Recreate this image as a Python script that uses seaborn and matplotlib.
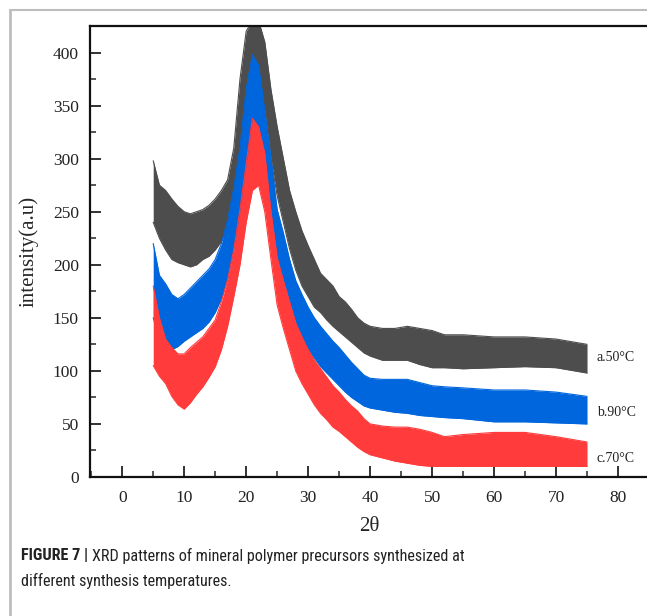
import numpy as np
import pandas as pd
import matplotlib
matplotlib.use("Agg")
import matplotlib.pyplot as plt
from matplotlib.lines import Line2D
from matplotlib.ticker import MultipleLocator
import seaborn as sns

# ---- data (lower / upper envelope of each noisy trace) ----
two_theta = [5, 6, 7, 8, 9, 10, 11, 12, 13, 14, 15, 16, 17, 18, 19, 20, 21, 22, 23, 24, 25,
             26, 27, 28, 29, 30, 31, 32, 33, 34, 35, 36, 37, 38, 39, 40, 42, 44, 46, 48, 50,
             52, 55, 60, 65, 70, 75]

a_low = [240, 225, 214, 205, 202, 200, 198, 200, 205, 208, 214, 222, 235, 255, 290, 335, 370, 370, 345, 300, 265,
         240, 215, 195, 180, 170, 160, 155, 148, 142, 137, 132, 127, 122, 117, 114, 110, 110, 110, 106, 103,
         103, 102, 103, 104, 103, 98]
a_high = [298, 275, 270, 262, 255, 250, 248, 250, 252, 256, 262, 270, 280, 310, 375, 420, 430, 430, 410, 365, 330,
          300, 270, 250, 232, 218, 205, 192, 186, 180, 170, 165, 158, 150, 145, 142, 140, 140, 142, 140, 138,
          134, 134, 132, 132, 130, 125]

b_low = [150, 130, 125, 120, 123, 128, 132, 136, 140, 146, 155, 168, 186, 214, 245, 290, 320, 320, 290, 245, 205,
         185, 165, 145, 130, 120, 112, 104, 98, 92, 86, 80, 75, 71, 67, 65, 63, 61, 60, 58, 57,
         56, 55, 52, 52, 51, 50]
b_high = [220, 190, 182, 172, 168, 172, 178, 184, 190, 196, 205, 220, 242, 272, 310, 365, 398, 388, 345, 300, 252,
          230, 205, 185, 172, 160, 150, 142, 135, 128, 122, 115, 108, 102, 96, 93, 92, 92, 92, 89, 86,
          85, 84, 82, 82, 80, 76]

c_low = [105, 95, 88, 76, 68, 64, 70, 78, 85, 94, 104, 120, 142, 170, 200, 240, 270, 275, 250, 205, 162,
         140, 120, 100, 88, 78, 68, 60, 54, 47, 43, 38, 33, 28, 24, 21, 18, 15, 13, 11, 10,
         10, 10, 10, 10, 10, 10]
c_high = [180, 150, 130, 122, 116, 116, 122, 127, 132, 140, 148, 165, 186, 214, 252, 295, 338, 330, 305, 250, 207,
          185, 165, 145, 132, 120, 110, 102, 94, 86, 80, 73, 67, 62, 55, 50, 48, 47, 47, 45, 42,
          38, 40, 42, 42, 38, 33]

series_names = ["a.50°C", "b.90°C", "c.70°C"]
series_colors = ["#4d4d4d", "#0066dd", "#ff3b3b"]
label_y = [113, 61, 17]

x_ticks = [0, 10, 20, 30, 40, 50, 60, 70, 80]
y_ticks = [0, 50, 100, 150, 200, 250, 300, 350, 400]

# ---- build long table ----
lows = [a_low, b_low, c_low]
highs = [a_high, b_high, c_high]
frames = []
for name, lo, hi in zip(series_names, lows, highs):
    frames.append(pd.DataFrame({"2θ": two_theta, "low": lo, "high": hi, "series": name}))
df = pd.concat(frames, ignore_index=True)

sns.set_theme(style="ticks")
plt.rcParams["font.family"] = ["Liberation Serif", "DejaVu Serif"]
plt.rcParams["xtick.direction"] = "in"
plt.rcParams["ytick.direction"] = "in"

W, H = 647, 616
fig = plt.figure(figsize=(W / 100, H / 100), dpi=100)
fig.patch.set_facecolor("white")
ax = fig.add_axes([90 / W, 139 / H, 559 / W, 451 / H])

palette = dict(zip(series_names, series_colors))
for i, name in enumerate(series_names):
    sub = df[df["series"] == name]
    z = 2 + 2 * i
    ax.fill_between(sub["2θ"], sub["low"], sub["high"], color=palette[name], lw=0, zorder=z)
    sns.lineplot(data=sub, x="2θ", y="low", color=palette[name], lw=0.8, ax=ax,
                 legend=False, zorder=z + 1)
    sns.lineplot(data=sub, x="2θ", y="high", color=palette[name], lw=0.8, ax=ax,
                 legend=False, zorder=z + 1)

for name, yv in zip(series_names, label_y):
    ax.text(76.6, yv, name, fontsize=10, va="center", ha="left", color="#222222")

ax.set_xlim(-5.2, 85)
ax.set_ylim(0, 425)
ax.set_xticks(x_ticks)
ax.set_yticks(y_ticks)
ax.xaxis.set_minor_locator(MultipleLocator(5))
ax.yaxis.set_minor_locator(MultipleLocator(25))
ax.tick_params(which="major", length=8, width=1.3, labelsize=12.5, colors="#222222", pad=9)
ax.tick_params(which="minor", length=4.5, width=1.1)
ax.tick_params(axis="y", which="major", pad=8)
for s in ax.spines.values():
    s.set_linewidth(1.6)
    s.set_color("#111111")
    s.set_zorder(10)
ax.set_xlabel("2θ", fontsize=15, labelpad=8)
ax.set_ylabel("intensity(a.u)", fontsize=15, labelpad=10)

# frame lines of the page
fig.add_artist(Line2D([10 / W, 10 / W], [0, 1 - 10 / H], color="#bdbdbd", lw=2))
fig.add_artist(Line2D([10 / W, 1], [1 - 10 / H, 1 - 10 / H], color="#bdbdbd", lw=1.5))

# caption (narrow sans)
cap_font = ["Liberation Sans Narrow", "Roboto Condensed", "DejaVu Sans"]
cap_kw = dict(family=cap_font, fontstretch="condensed", va="center", ha="left", color="#222222")
size = 11.6
renderer = fig.canvas.get_renderer()
t1 = fig.text(21 / W, 1 - 556 / H, "FIGURE 7 |", fontsize=size, fontweight="bold", **cap_kw)
bb = t1.get_window_extent(renderer=renderer)
fig.text((bb.x1 + 4) / W, 1 - 556 / H,
         "XRD patterns of mineral polymer precursors synthesized at",
         fontsize=size, **cap_kw)
fig.text(21 / W, 1 - 581 / H, "different synthesis temperatures.", fontsize=size, **cap_kw)

fig.savefig("out.png", dpi=100)
